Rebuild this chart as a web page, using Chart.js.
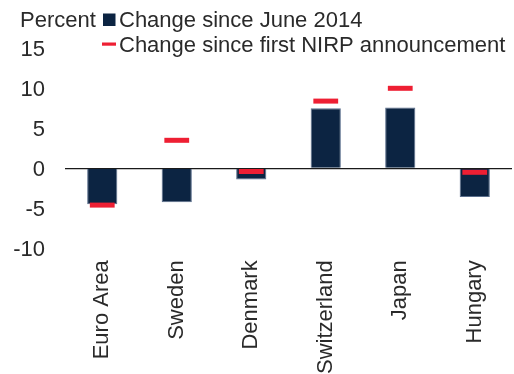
<!DOCTYPE html>
<html>
<head>
<meta charset="utf-8">
<script src="https://cdn.jsdelivr.net/npm/chart.js@4/dist/chart.umd.min.js"></script>
<style>
html,body{margin:0;padding:0;background:#fff;}
#wrap{width:514px;height:374px;position:relative;}
</style>
</head>
<body>
<div id="wrap"><canvas id="c" width="514" height="374"></canvas></div>
<script>
const categories = ['Euro Area', 'Sweden', 'Denmark', 'Switzerland', 'Japan', 'Hungary'];
const sinceJune2014 = [-4.5, -4.25, -1.4, 7.5, 7.6, -3.6];
const sinceNIRP = [-4.6, 3.5, -0.4, 8.4, 10.0, -0.5];
const yTicks = [-10, -5, 0, 5, 10, 15];
const unitLabel = 'Percent';
const seriesNames = ['Change since June 2014', 'Change since first NIRP announcement'];

const NAVY = '#0c2442';
const RED = '#ee1f33';
const TEXT = '#2a2a2a';
const FONT = "'Liberation Sans', Arial, sans-serif";

const headerPlugin = {
  id: 'header',
  afterDraw(chart) {
    const ctx = chart.ctx;
    ctx.save();
    ctx.fillStyle = TEXT;
    ctx.font = '22px ' + FONT;
    ctx.textBaseline = 'alphabetic';
    ctx.textAlign = 'left';
    ctx.fillText(unitLabel, 20, 26.7);
    ctx.fillStyle = NAVY;
    ctx.fillRect(103, 13.5, 12.5, 12.5);
    ctx.fillStyle = TEXT;
    ctx.fillText(seriesNames[0], 119, 26.7);
    ctx.fillStyle = RED;
    ctx.fillRect(102, 42.5, 14, 3.2);
    ctx.fillStyle = TEXT;
    ctx.fillText(seriesNames[1], 119, 51.7);
    ctx.restore();
  }
};

new Chart(document.getElementById('c'), {
  data: {
    labels: categories,
    datasets: [
      {
        type: 'line',
        label: seriesNames[1],
        data: sinceNIRP,
        showLine: false,
        pointStyle: 'line',
        pointRadius: 12.4,
        pointHoverRadius: 12.4,
        pointBorderWidth: 5,
        pointHoverBorderWidth: 5,
        borderColor: RED,
        backgroundColor: RED,
        clip: false,
        order: 0
      },
      {
        type: 'bar',
        label: seriesNames[0],
        data: sinceJune2014,
        backgroundColor: NAVY,
        borderColor: '#5a6e8c',
        borderWidth: 1,
        borderSkipped: 'start',
        categoryPercentage: 1,
        barPercentage: 0.405,
        order: 1
      }
    ]
  },
  options: {
    responsive: false,
    animation: false,
    devicePixelRatio: 1,
    layout: { autoPadding: false, padding: { left: 0, right: 2, top: 48.3, bottom: 0 } },
    plugins: {
      legend: { display: false },
      title: { display: false },
      tooltip: { enabled: false }
    },
    scales: {
      x: {
        offset: true,
        grid: { display: false, drawTicks: false },
        border: { display: false },
        ticks: {
          color: TEXT,
          font: { family: FONT, size: 22 },
          maxRotation: 90,
          minRotation: 90,
          padding: 12,
          autoSkip: false
        },
        afterFit(scale) {
          scale.height = 374 - 248.3;
          scale.paddingLeft = 0;
          scale.paddingRight = 0;
        }
      },
      y: {
        min: -10,
        max: 15,
        afterBuildTicks(scale) { scale.ticks = yTicks.map(v => ({ value: v })); },
        grid: {
          drawTicks: false,
          color: (c) => (c.tick && c.tick.value === 0) ? '#1a1a1a' : 'rgba(0,0,0,0)',
          lineWidth: 1.2
        },
        border: { display: false },
        ticks: {
          color: TEXT,
          font: { family: FONT, size: 22 },
          padding: 20,
          labelOffset: 2
        },
        afterFit(scale) {
          scale.width = 65;
          scale.paddingTop = 0;
          scale.paddingBottom = 0;
        }
      }
    }
  },
  plugins: [headerPlugin]
});
</script>
</body>
</html>
